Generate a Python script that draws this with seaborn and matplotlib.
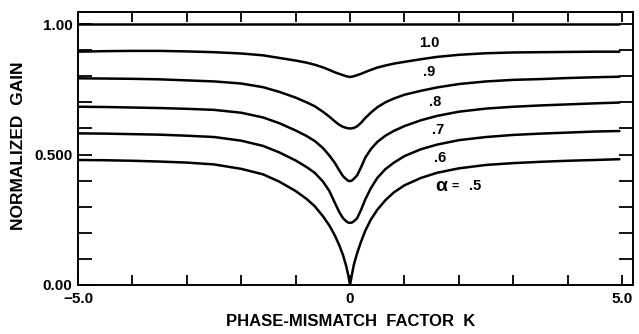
import matplotlib
matplotlib.use("Agg")
import matplotlib.pyplot as plt
from matplotlib.ticker import MultipleLocator, FixedLocator
import seaborn as sns
import pandas as pd

# Phase-mismatch factor K (read positions)
K = [-5.0, -4.5, -4.0, -3.5, -3.0, -2.5, -2.0, -1.6, -1.3, -1.0, -0.8, -0.65, -0.5, -0.38,
     -0.28, -0.2, -0.13, -0.07, -0.03, 0.0,
     0.03, 0.07, 0.13, 0.2, 0.28, 0.38, 0.5, 0.65, 0.8, 1.0, 1.3, 1.6, 2.0, 2.5, 3.0,
     3.5, 4.0, 4.5, 4.95]

# Normalized gain for each alpha
G10 = [1.0] * 39
G9 = [0.894, 0.896, 0.897, 0.897, 0.895, 0.892, 0.887, 0.880, 0.870, 0.860, 0.852, 0.844,
      0.834, 0.824, 0.815, 0.809, 0.804, 0.800, 0.798, 0.797,
      0.798, 0.800, 0.804, 0.809, 0.816, 0.824, 0.833, 0.841, 0.848, 0.855, 0.865, 0.874,
      0.882, 0.888, 0.891, 0.892, 0.893, 0.894, 0.894]
G8 = [0.792, 0.791, 0.790, 0.788, 0.784, 0.780, 0.772, 0.758, 0.740, 0.718, 0.700, 0.685,
      0.664, 0.645, 0.627, 0.614, 0.606, 0.602, 0.600, 0.600,
      0.600, 0.602, 0.608, 0.621, 0.640, 0.660, 0.681, 0.700, 0.714, 0.729, 0.744, 0.757,
      0.770, 0.780, 0.786, 0.789, 0.793, 0.796, 0.798]
G7 = [0.683, 0.682, 0.680, 0.678, 0.675, 0.671, 0.660, 0.642, 0.620, 0.592, 0.571, 0.552,
      0.525, 0.496, 0.468, 0.440, 0.417, 0.405, 0.399, 0.398,
      0.400, 0.407, 0.420, 0.450, 0.488, 0.520, 0.548, 0.572, 0.590, 0.609, 0.631, 0.648,
      0.664, 0.676, 0.683, 0.688, 0.692, 0.696, 0.699]
G6 = [0.581, 0.580, 0.578, 0.576, 0.572, 0.567, 0.553, 0.533, 0.508, 0.477, 0.452, 0.430,
      0.397, 0.360, 0.315, 0.280, 0.256, 0.244, 0.239, 0.238,
      0.239, 0.244, 0.256, 0.287, 0.328, 0.370, 0.410, 0.444, 0.468, 0.494, 0.520, 0.538,
      0.555, 0.567, 0.575, 0.580, 0.584, 0.588, 0.590]
G5 = [0.479, 0.478, 0.476, 0.473, 0.469, 0.462, 0.445, 0.424, 0.396, 0.360, 0.330, 0.302,
      0.264, 0.228, 0.190, 0.153, 0.115, 0.072, 0.034, 0.0,
      0.035, 0.078, 0.122, 0.165, 0.208, 0.250, 0.288, 0.325, 0.354, 0.382, 0.410, 0.430,
      0.447, 0.460, 0.467, 0.472, 0.476, 0.479, 0.482]

alpha_labels = ["1.0", ".9", ".8", ".7", ".6"]
label_K = [1.45, 1.46, 1.56, 1.62, 1.66]
label_G = [0.928, 0.817, 0.702, 0.594, 0.485]
alpha_word_K = [1.67, 1.93, 2.30]
alpha_word = ["\u03b1", "=", ".5"]
alpha_word_G = 0.378

sns.set_theme(style="ticks")
plt.rcParams['font.family'] = ['Liberation Sans', 'DejaVu Sans']

fig = plt.figure(figsize=(6.39, 3.34), dpi=100)
ax = fig.add_axes([78/639, 1-285/334, (633-78)/639, (285-12)/334])

series = [G10, G9, G8, G7, G6, G5]
for G in series:
    df = pd.DataFrame({"K": K, "G": G})
    sns.lineplot(data=df, x="K", y="G", ax=ax, color="black", lw=1.8,
                 sort=False, estimator=None)

ax.set_xlim(-5.0, 5.2)
ax.set_ylim(0.0, 1.046)

ax.xaxis.set_major_locator(FixedLocator([-5, 0, 5]))
ax.xaxis.set_minor_locator(MultipleLocator(1.0))
ax.set_xticklabels(["\u22125.0", "0", "5.0"])
ax.yaxis.set_major_locator(FixedLocator([0.0, 0.5, 1.0]))
ax.yaxis.set_minor_locator(MultipleLocator(0.1))
ax.set_yticklabels(["0.00", "0.500", "1.00"])

ax.tick_params(axis="both", which="both", direction="in", top=True, right=True,
               width=1.3, color="black")
ax.tick_params(axis="x", which="both", length=7, pad=5)
ax.tick_params(axis="y", which="both", length=10, pad=4)
ax.tick_params(axis="both", which="major", labelsize=11, labelcolor="black")
for lab in ax.get_xticklabels() + ax.get_yticklabels():
    lab.set_fontweight("bold")

for s in ax.spines.values():
    s.set_linewidth(1.4)
    s.set_color("black")

for t, kx, gy in zip(alpha_labels, label_K, label_G):
    ax.text(kx, gy, t, ha="center", va="center", fontsize=10.5, fontweight="bold",
            color="black")
for t, kx, fs in zip(alpha_word, alpha_word_K, [14, 9, 10.5]):
    ax.text(kx, alpha_word_G, t, ha="center", va="center", fontsize=fs,
            fontweight="bold", color="black")

ax.set_xlabel("PHASE-MISMATCH  FACTOR  K", fontsize=12, fontweight="bold",
              color="black")
ax.set_ylabel("NORMALIZED  GAIN", fontsize=12.5, fontweight="bold", color="black")
ax.xaxis.set_label_coords(0.491, -0.105)
ax.yaxis.set_label_coords(-0.094, 0.511)

fig.savefig("out.png", dpi=100)
